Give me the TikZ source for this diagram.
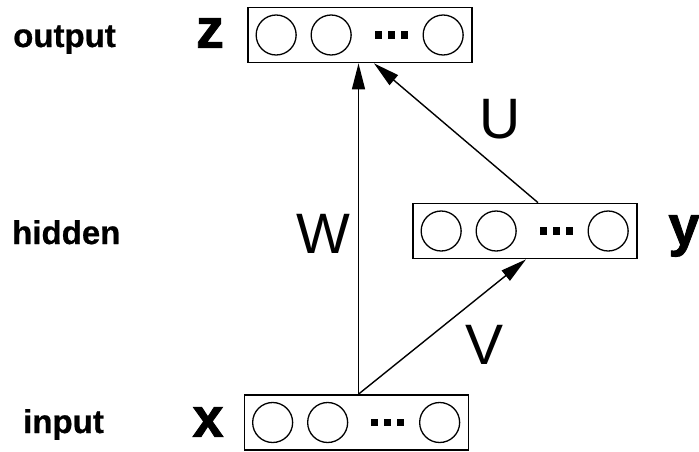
\documentclass[tikz,border=0pt]{standalone}
\usepackage{fontspec}
\setmainfont{Liberation Sans}
\newfontfamily\heavyfont[FakeBold=1.5]{Liberation Sans Bold}
\newfontfamily\semiheavyfont[FakeBold=0.6]{Liberation Sans Bold}
\usetikzlibrary{arrows.meta}

\tikzset{
  unitbox/.style={draw, line width=1.7pt, minimum width=224pt, minimum height=55pt, inner sep=0pt},
  unit/.style={draw, circle, line width=1.3pt, minimum size=40pt, inner sep=0pt},
  dotmark/.style={fill, minimum width=7pt, minimum height=7.5pt, inner sep=0pt},
  conn/.style={line width=1.4pt, -{Triangle[length=26pt,width=13pt]}},
  layername/.style={font=\semiheavyfont\fontsize{33}{33}\selectfont, anchor=base west, inner sep=0pt},
  vecname/.style={font=\heavyfont\fontsize{56}{56}\selectfont, inner sep=0pt},
  weight/.style={font=\fontsize{57}{57}\selectfont, inner sep=0pt}
}

% a layer: framed row of two units, an ellipsis and a last unit
\newcommand\unitrow[3]{%
  \node[unitbox] (#1) at (#2,#3) {};
  \node[unit] (#1-a) at ([xshift=29pt]#1.west) {};
  \node[unit] (#1-b) at ([xshift=84pt]#1.west) {};
  \node[dotmark] (#1-d1) at ([xshift=131pt]#1.west) {};
  \node[dotmark] (#1-d2) at ([xshift=144pt]#1.west) {};
  \node[dotmark] (#1-d3) at ([xshift=157pt]#1.west) {};
  \node[unit] (#1-n) at ([xshift=196pt]#1.west) {};
}

\begin{document}
\begin{tikzpicture}[x=1pt, y=-1pt]
  \useasboundingbox (0,0) rectangle (699,451);

  % layers
  \unitrow{out}{360}{35}
  \unitrow{hid}{525}{231}
  \unitrow{in}{356.5}{422.5}

  % layer names
  \node[layername] (lout) at (13,47) {output};
  \node[layername] (lhid) at (12,244) {hidden};
  \node[layername] (lin) at (23,433) {input};

  % vector names
  \node[vecname] (vz) at (210,33) {z};
  \node[vecname] (vx) at (208,422) {x};
  \node[vecname, anchor=base] (vy) at (684,245) {y};

  % connections
  \coordinate (fork) at ([xshift=2pt]in.north);
  \draw[conn] (fork) -- (fork |- out.south);
  \draw[conn] (fork) -- ([xshift=1pt]hid.south);
  \draw[conn] ([xshift=13pt]hid.north) -- ([xshift=14pt]out.south);

  % weight labels
  \node[weight] (lw) at (323,234) {W};
  \node[weight] (lu) at (500,119) {U};
  \node[weight] (lv) at (485,345) {V};
\end{tikzpicture}
\end{document}
